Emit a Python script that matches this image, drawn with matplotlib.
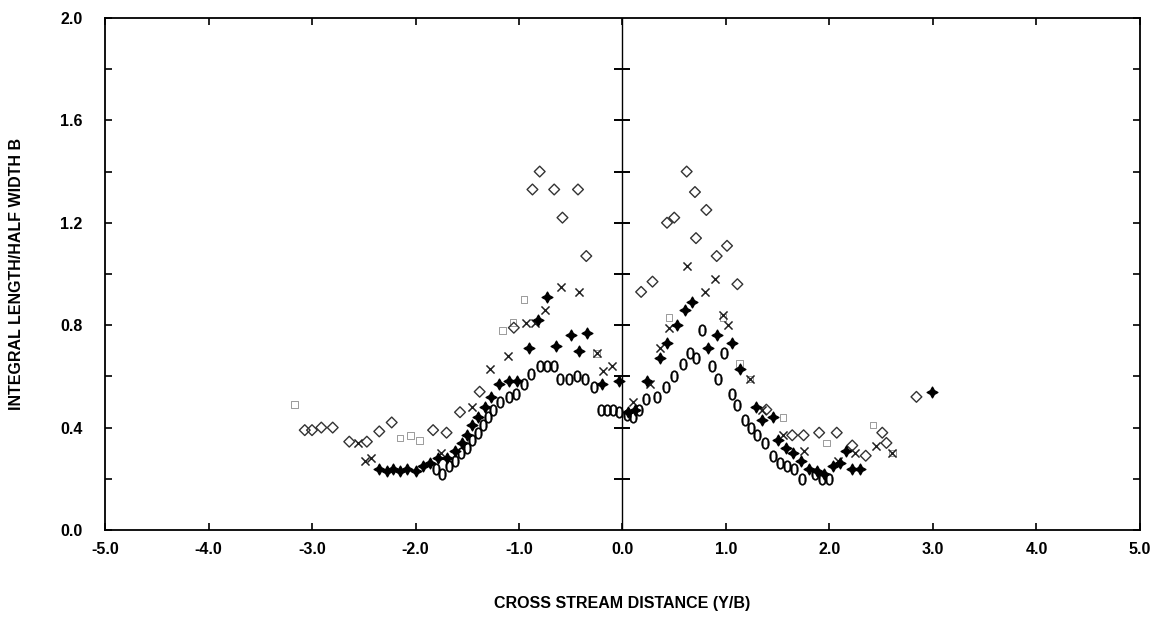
import numpy as np
import matplotlib.pyplot as plt

plt.rcParams['font.family'] = ['Liberation Sans', 'DejaVu Sans']

# open ovals ("0" symbols)
oval_x = [-1.80, -1.74, -1.68, -1.62, -1.56, -1.50, -1.45, -1.40, -1.35, -1.30, -1.25, -1.18,
          -1.10, -1.03, -0.95, -0.88, -0.80, -0.73, -0.66, -0.60, -0.52, -0.44, -0.36, -0.28,
          -0.21, -0.15, -0.09, -0.03,
          0.04, 0.10, 0.16, 0.23, 0.33, 0.42, 0.50, 0.58, 0.65, 0.71, 0.77, 0.86, 0.92, 0.98,
          1.06, 1.11, 1.18, 1.24, 1.30, 1.38, 1.45, 1.52, 1.59, 1.66, 1.73, 1.86, 1.93, 2.00]
oval_y = [0.24, 0.22, 0.25, 0.27, 0.30, 0.32, 0.35, 0.38, 0.41, 0.44, 0.47, 0.50,
          0.52, 0.53, 0.57, 0.61, 0.64, 0.64, 0.64, 0.59, 0.59, 0.60, 0.59, 0.56,
          0.47, 0.47, 0.47, 0.46,
          0.45, 0.44, 0.47, 0.51, 0.52, 0.56, 0.60, 0.65, 0.69, 0.67, 0.78, 0.64, 0.59, 0.69,
          0.53, 0.49, 0.43, 0.40, 0.37, 0.34, 0.29, 0.26, 0.25, 0.24, 0.20, 0.22, 0.20, 0.20]

# filled four point stars
star_x = [-2.35, -2.28, -2.22, -2.15, -2.08, -2.00, -1.93, -1.86, -1.78, -1.70, -1.62, -1.55,
          -1.50, -1.45, -1.40, -1.33, -1.27, -1.19, -1.10, -1.02, -0.90, -0.82, -0.73, -0.64,
          -0.50, -0.42, -0.34, -0.20, -0.03,
          0.05, 0.12, 0.24, 0.36, 0.43, 0.53, 0.60, 0.67, 0.83, 0.91, 1.06, 1.14, 1.29, 1.35,
          1.45, 1.50, 1.58, 1.65, 1.72, 1.80, 1.88, 1.95, 2.03, 2.10, 2.16, 2.22, 2.29, 2.99]
star_y = [0.24, 0.23, 0.24, 0.23, 0.24, 0.23, 0.25, 0.26, 0.28, 0.28, 0.31, 0.34,
          0.37, 0.41, 0.44, 0.48, 0.52, 0.57, 0.58, 0.58, 0.71, 0.82, 0.91, 0.72,
          0.76, 0.70, 0.77, 0.57, 0.58,
          0.46, 0.47, 0.58, 0.67, 0.73, 0.80, 0.86, 0.89, 0.71, 0.76, 0.73, 0.63, 0.48, 0.43,
          0.44, 0.35, 0.32, 0.30, 0.27, 0.24, 0.23, 0.22, 0.25, 0.26, 0.31, 0.24, 0.24, 0.54]

# crosses
cross_x = [-2.56, -2.49, -2.43, -1.75, -1.45, -1.28, -1.11, -0.93, -0.85, -0.75, -0.59, -0.42,
           -0.25, -0.19, -0.10,
           0.10, 0.27, 0.36, 0.45, 0.62, 0.80, 0.89, 0.97, 1.02, 1.23, 1.35, 1.55, 1.75,
           2.08, 2.25, 2.45, 2.60]
cross_y = [0.34, 0.27, 0.28, 0.30, 0.48, 0.63, 0.68, 0.81, 0.81, 0.86, 0.95, 0.93,
           0.69, 0.62, 0.64,
           0.50, 0.57, 0.71, 0.79, 1.03, 0.93, 0.98, 0.84, 0.80, 0.59, 0.47, 0.37, 0.31,
           0.27, 0.30, 0.33, 0.30]

# open diamonds
diam_x = [-3.07, -3.00, -2.91, -2.80, -2.64, -2.47, -2.35, -2.23, -1.83, -1.70, -1.57, -1.38,
          -1.05, -0.87, -0.80, -0.66, -0.58, -0.43, -0.35,
          0.18, 0.29, 0.43, 0.50, 0.62, 0.70, 0.81, 0.71, 1.01, 0.91, 1.11, 1.39, 1.64,
          1.75, 1.90, 2.07, 2.22, 2.35, 2.51, 2.55, 2.84]
diam_y = [0.39, 0.39, 0.40, 0.40, 0.345, 0.345, 0.385, 0.42, 0.39, 0.38, 0.46, 0.54,
          0.79, 1.33, 1.40, 1.33, 1.22, 1.33, 1.07,
          0.93, 0.97, 1.20, 1.22, 1.40, 1.32, 1.25, 1.14, 1.11, 1.07, 0.96, 0.47, 0.37,
          0.37, 0.38, 0.38, 0.33, 0.29, 0.38, 0.34, 0.52]

# faint small symbols
faint_x = [-3.17, -2.15, -2.05, -1.96, -1.16, -1.06, -0.95, -0.25, 0.45, 0.97, 1.13, 1.23,
           1.55, 1.97, 2.42, 2.61]
faint_y = [0.49, 0.36, 0.37, 0.35, 0.78, 0.81, 0.90, 0.69, 0.83, 0.83, 0.65, 0.59,
           0.44, 0.34, 0.41, 0.30]

x_ticks = [-5.0, -4.0, -3.0, -2.0, -1.0, 0.0, 1.0, 2.0, 3.0, 4.0, 5.0]
y_ticks = [0.0, 0.4, 0.8, 1.2, 1.6, 2.0]

fig = plt.figure(figsize=(11.59, 6.19), dpi=100)
ax = fig.add_axes([0.0906, 0.1438, 0.8930, 0.8272])

ax.set_xlim(-5, 5)
ax.set_ylim(0, 2)

# centre line with cross ticks
ax.axvline(0, color='black', lw=1.0, zorder=1)
cy = np.arange(0.2, 2.0, 0.2)
ax.plot(np.zeros(len(cy)), cy, ls='none', marker='_', ms=11, mew=1.4, color='black', zorder=1)

ax.scatter(faint_x, faint_y, marker='s', s=22, facecolors='none', edgecolors='#9a9a9a',
           linewidths=0.7, zorder=2)
ax.scatter(diam_x, diam_y, marker='D', s=30, facecolors='none', edgecolors='#333333',
           linewidths=1.0, zorder=3)
ax.scatter(cross_x, cross_y, marker='x', s=34, color='#222222', linewidths=1.1, zorder=3)
ax.scatter(star_x, star_y, marker=(4, 1, 0), s=60, color='black', zorder=4)
ax.scatter(oval_x, oval_y, marker='$0$', s=70, color='black', linewidths=0.3, zorder=4)

ax.set_xticks(x_ticks)
ax.set_xticklabels(['%.1f' % v for v in x_ticks])
ax.set_yticks(y_ticks)
ax.set_yticklabels(['%.1f' % v for v in y_ticks])
ax.set_yticks(np.arange(0.2, 2.0, 0.4), minor=True)

ax.tick_params(axis='both', which='both', direction='in', top=True, right=True,
               length=5, width=1.2, labelsize=11.5)
ax.tick_params(axis='x', which='major', pad=9)
ax.tick_params(axis='y', which='major', pad=16)
for lbl in ax.get_xticklabels() + ax.get_yticklabels():
    lbl.set_fontweight('bold')

for sp in ax.spines.values():
    sp.set_linewidth(1.3)

ax.set_xlabel('CROSS STREAM DISTANCE (Y/B)', fontsize=11.5, fontweight='bold', labelpad=28)
ax.set_ylabel('INTEGRAL LENGTH/HALF WIDTH B', fontsize=11.5, fontweight='bold', labelpad=26)

fig.savefig('out.png', dpi=100, facecolor='white')
